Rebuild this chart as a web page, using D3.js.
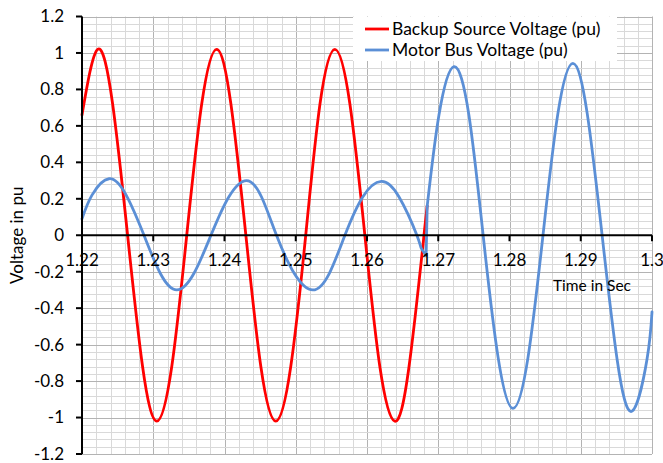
<!DOCTYPE html>
<html>
<head>
<meta charset="utf-8">
<script src="https://cdn.jsdelivr.net/npm/d3@7"></script>
<style>
  body { margin: 0; background: #fff; }
  text { font-family: Lato, "Open Sans", sans-serif; fill: #000; }
</style>
</head>
<body>
<div id="chart"></div>
<script>
// tick labels
var xTicks = [1.22, 1.23, 1.24, 1.25, 1.26, 1.27, 1.28, 1.29, 1.3];
var xTickLabels = ["1.22", "1.23", "1.24", "1.25", "1.26", "1.27", "1.28", "1.29", "1.3"];
var yTicks = [1.2, 1, 0.8, 0.6, 0.4, 0.2, 0, -0.2, -0.4, -0.6, -0.8, -1, -1.2];
var yTickLabels = ["1.2", "1", "0.8", "0.6", "0.4", "0.2", "0", "-0.2", "-0.4", "-0.6", "-0.8", "-1", "-1.2"];

var seriesNames = ["Backup Source Voltage (pu)", "Motor Bus Voltage (pu)"];

// Backup source voltage: [time, pu]
var backupTime = [1.2200, 1.2222, 1.2243, 1.2264, 1.2285, 1.2305, 1.2326, 1.2347, 1.2368,
  1.2389, 1.2409, 1.2430, 1.2451, 1.2472, 1.2493, 1.2514, 1.2534, 1.2555, 1.2576,
  1.2597, 1.2618, 1.2639, 1.2659, 1.2680, 1.26845];
var backupVolt = [0.66, 1.02, 0.72, 0, -0.72, -1.02, -0.72, 0, 0.72,
  1.02, 0.72, 0, -0.72, -1.02, -0.72, 0, 0.72, 1.02, 0.72,
  0, -0.72, -1.02, -0.72, 0, 0.16];

// Motor bus voltage (jumps up when the bus is transferred at ~1.2684 s)
var motorTime = [1.2200, 1.2214, 1.2238, 1.2262, 1.2287, 1.2310, 1.2333, 1.2357, 1.2381,
  1.2406, 1.2431, 1.2452, 1.2473, 1.2498, 1.2524, 1.2547, 1.2569, 1.2594, 1.2620,
  1.2645, 1.2670, 1.2676, 1.2683, 1.26845, 1.2701, 1.2722, 1.2743, 1.2763, 1.2784,
  1.2805, 1.2826, 1.2847, 1.2868, 1.2889, 1.2909, 1.2930, 1.2951, 1.2972, 1.2993, 1.3000];
var motorVolt = [0.09, 0.22, 0.31, 0.22, 0, -0.21, -0.30, -0.21, 0,
  0.21, 0.30, 0.21, 0, -0.21, -0.30, -0.21, 0, 0.21, 0.295,
  0.21, 0, -0.07, -0.11, 0.16, 0.66, 0.925, 0.66, 0, -0.67,
  -0.95, -0.67, 0, 0.67, 0.943, 0.67, 0, -0.68, -0.965, -0.68, -0.42];

var colors = ["#ff0000", "#5b8fd6"];

var W = 663, H = 463;
var svg = d3.select("#chart").append("svg")
  .attr("width", W).attr("height", H);

var x = d3.scaleLinear().domain([1.22, 1.3]).range([82, 652]);
var y = d3.scaleLinear().domain([-1.2, 1.2]).range([454, 16.5]);

// grid (5 minor divisions per major step)
var grid = svg.append("g");
d3.range(0, 41).forEach(function(i){
  var xv = x(1.22 + i * 0.002);
  grid.append("line")
    .attr("x1", Math.round(xv) + 0.5).attr("x2", Math.round(xv) + 0.5)
    .attr("y1", y(1.2)).attr("y2", y(-1.2))
    .attr("stroke", i % 5 == 0 ? "#b3b3b3" : "#d9d9d9").attr("stroke-width", 1);
});
d3.range(0, 61).forEach(function(i){
  var yv = y(-1.2 + i * 0.04);
  grid.append("line")
    .attr("x1", x(1.22)).attr("x2", x(1.3))
    .attr("y1", Math.round(yv) + 0.5).attr("y2", Math.round(yv) + 0.5)
    .attr("stroke", i % 5 == 0 ? "#b3b3b3" : "#d9d9d9").attr("stroke-width", 1);
});

// series
var line = d3.line()
  .x(function(d){ return x(d[0]); })
  .y(function(d){ return y(d[1]); })
  .curve(d3.curveNatural);
var straight = d3.line()
  .x(function(d){ return x(d[0]); })
  .y(function(d){ return y(d[1]); });

var backupData = backupTime.map(function(t, i){ return [t, backupVolt[i]]; });
var motorData = motorTime.map(function(t, i){ return [t, motorVolt[i]]; });
var jump = motorTime.indexOf(1.26845);

function drawSeries(d, gen, color){
  svg.append("path").datum(d)
    .attr("d", gen).attr("fill", "none")
    .attr("stroke", color).attr("stroke-width", 2.8)
    .attr("stroke-linejoin", "round").attr("stroke-linecap", "round");
}
drawSeries(backupData, line, colors[0]);
drawSeries(motorData.slice(0, jump), line, colors[1]);
drawSeries(motorData.slice(jump - 1, jump + 1), straight, colors[1]);
drawSeries(motorData.slice(jump), line, colors[1]);

// y axis
var yAxis = svg.append("g").attr("transform", "translate(" + x(1.22) + ",0)");
yAxis.append("line").attr("y1", y(1.2)).attr("y2", y(-1.2))
  .attr("stroke", "#000").attr("stroke-width", 2);
yTicks.forEach(function(v, i){
  yAxis.append("line").attr("x1", -6).attr("x2", 0)
    .attr("y1", y(v)).attr("y2", y(v)).attr("stroke", "#000").attr("stroke-width", 2);
  yAxis.append("text").attr("x", -18).attr("y", y(v))
    .attr("dy", "0.35em").attr("text-anchor", "end")
    .attr("font-size", 17).text(yTickLabels[i]);
});

// x axis on zero line
var xAxis = svg.append("g").attr("transform", "translate(0," + y(0) + ")");
xAxis.append("line").attr("x1", x(1.22)).attr("x2", x(1.3))
  .attr("stroke", "#000").attr("stroke-width", 2);
xTicks.forEach(function(v, i){
  xAxis.append("line").attr("x1", x(v)).attr("x2", x(v))
    .attr("y1", 0).attr("y2", 6).attr("stroke", "#000").attr("stroke-width", 2);
  xAxis.append("text").attr("x", x(v)).attr("y", 31)
    .attr("text-anchor", "middle").attr("font-size", 17).text(xTickLabels[i]);
});

// axis titles
svg.append("text").attr("x", 553).attr("y", 291)
  .attr("font-size", 15.5).text("Time in Sec");
svg.append("text")
  .attr("transform", "translate(23," + y(0) + ") rotate(-90)")
  .attr("text-anchor", "middle").attr("font-size", 17).text("Voltage in pu");

// legend
var legend = svg.append("g");
legend.append("rect").attr("x", 353).attr("y", 17).attr("width", 264).attr("height", 44)
  .attr("fill", "#fff");
seriesNames.forEach(function(name, i){
  var ly = 29 + i * 21;
  legend.append("line").attr("x1", 365).attr("x2", 389)
    .attr("y1", ly).attr("y2", ly)
    .attr("stroke", colors[i]).attr("stroke-width", 2.8);
  legend.append("text").attr("x", 392).attr("y", ly).attr("dy", "0.35em")
    .attr("font-size", 17.5).text(name);
});
</script>
</body>
</html>
